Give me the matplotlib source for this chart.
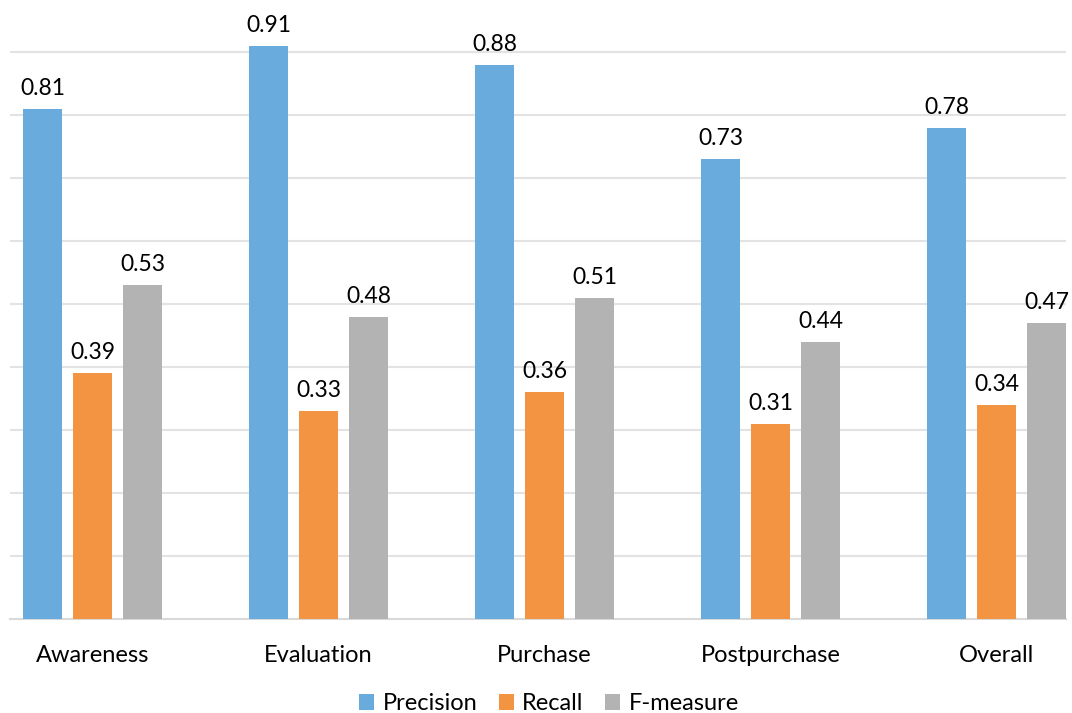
import numpy as np
import matplotlib.pyplot as plt

plt.rcParams['font.family'] = ['Lato', 'DejaVu Sans']

stages = ['Awareness', 'Evaluation', 'Purchase', 'Postpurchase', 'Overall']
precision = [0.81, 0.91, 0.88, 0.73, 0.78]
recall = [0.39, 0.33, 0.36, 0.31, 0.34]
fmeasure = [0.53, 0.48, 0.51, 0.44, 0.47]

series = [('Precision', precision, '#6aabdd'),
          ('Recall', recall, '#f29442'),
          ('F-measure', fmeasure, '#b3b3b3')]

W, H = 1072, 713
fig = plt.figure(figsize=(W / 100, H / 100), dpi=100)
# plot area in pixels: left 10, right 1066, baseline at 619 from top
ax = fig.add_axes([10 / W, (H - 619) / H, 1056 / W, 619 / H])

x = np.arange(len(stages))
width = 0.1726
step = 0.221

for i, (name, vals, color) in enumerate(series):
    bars = ax.bar(x + (i - 1) * step, vals, width, color=color, label=name, zorder=3)
    for b, v in zip(bars, vals):
        ax.annotate(f'{v:.2f}', (b.get_x() + b.get_width() / 2, v),
                    xytext=(0, 10), textcoords='offset pixels',
                    ha='center', va='bottom', fontsize=16.5, color='#000000')

ax.set_xlim((10 - 92.5) / 226, (1066 - 92.5) / 226)
ax.set_ylim(0, 619 / 630)
ax.set_yticks(np.arange(0.1, 0.95, 0.1))
ax.yaxis.grid(True, color='#e3e3e3', linewidth=1.5, zorder=0)
ax.tick_params(axis='y', left=False, labelleft=False)
ax.set_xticks(x)
ax.set_xticklabels(stages, fontsize=17)
ax.tick_params(axis='x', bottom=False, pad=15)
for side in ['top', 'right', 'left']:
    ax.spines[side].set_visible(False)
ax.spines['bottom'].set_color('#d9d9d9')
ax.spines['bottom'].set_linewidth(1.5)

fig.legend(loc='center', bbox_to_anchor=(549 / W, 9 / H), ncol=3, frameon=False,
           fontsize=17, handlelength=0.65, handleheight=0.65,
           handletextpad=0.35, columnspacing=0.9)

fig.savefig('out.png', dpi=100)
